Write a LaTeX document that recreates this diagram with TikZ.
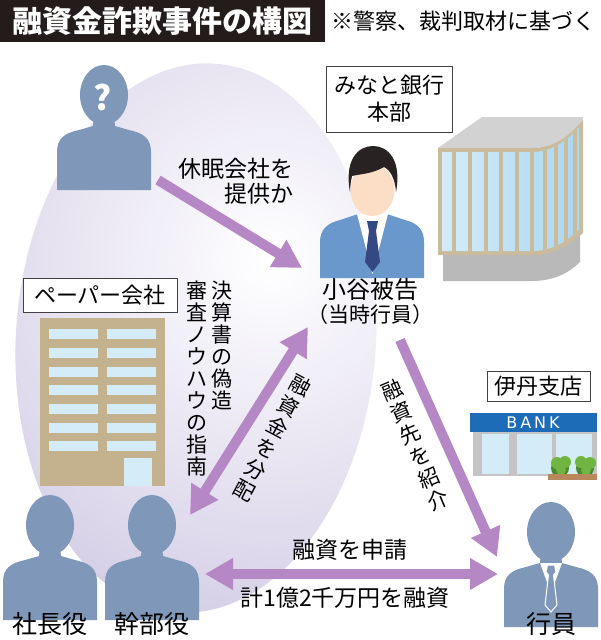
\documentclass[tikz,border=0pt]{standalone}
\usepackage{fontspec}
\setmainfont{Noto Sans CJK JP}
\newfontfamily\bankfont{DejaVu Sans}
\usetikzlibrary{arrows.meta,shapes.geometric}
\definecolor{silh}{RGB}{127,152,185}
\definecolor{arr}{RGB}{181,135,196}
\definecolor{lav}{RGB}{204,196,225}
\definecolor{tanc}{RGB}{196,177,142}
\definecolor{win}{RGB}{212,236,248}
\definecolor{winb}{RGB}{170,214,240}
\definecolor{beige}{RGB}{201,187,155}
\definecolor{roof}{RGB}{210,210,210}
\definecolor{basegray}{RGB}{185,185,185}
\definecolor{suit}{RGB}{106,152,204}
\definecolor{tiec}{RGB}{52,72,132}
\definecolor{skin}{RGB}{252,222,198}
\definecolor{hair}{RGB}{40,34,34}
\definecolor{bankblue}{RGB}{28,108,184}
\definecolor{bush}{RGB}{112,180,66}
\definecolor{bushd}{RGB}{72,138,45}
\definecolor{planter}{RGB}{184,136,90}
\definecolor{titlebg}{RGB}{35,28,26}
\tikzset{
  fatarrow/.style={draw=arr, line width=10pt, -{Triangle[width=30pt,length=28pt]}},
  fatdouble/.style={draw=arr, line width=10pt, {Triangle[width=30pt,length=28pt]}-{Triangle[width=30pt,length=28pt]}},
  lbl/.style={font=\fontsize{23}{26}\selectfont, inner sep=0pt, align=center},
  boxlbl/.style={draw=black!75, line width=0.8pt, fill=white, font=\fontsize{22}{27}\selectfont, inner sep=2pt, align=center},
  pname/.style={font=\fontsize{24}{28}\selectfont, inner sep=0pt},
  vcol/.style={font=\fontsize{21}{22}\selectfont, inner sep=0pt, align=center, anchor=north},
  rchar/.style={font=\fontsize{21}{22}\selectfont, inner sep=0pt},
  silhouette/.pic={
    \fill[silh] (-47,0) -- (-47,-38) .. controls (-47,-52) and (-39,-57) .. (-25,-60) -- (-11,-64) -- (-10,-74) -- (10,-74) -- (11,-64) -- (25,-60) .. controls (39,-57) and (47,-52) .. (47,-38) -- (47,0) -- cycle;
    \fill[silh] (0,-95) ellipse [x radius=24, y radius=30];
  }
}
\begin{document}
\begin{tikzpicture}[x=1pt,y=-1pt]
\useasboundingbox (0,0) rectangle (600,640);
\fill[white] (0,0) rectangle (600,640);

% background ellipse
\begin{scope}
\clip[rotate around={-4:(196,338)}] (196,338) ellipse [x radius=180, y radius=275];
\shade[inner color=white, outer color=lav] (270,260) circle (450);
\end{scope}

% title
\node[fill=titlebg, minimum width=325pt, minimum height=42pt, anchor=north west, text=white, font=\fontsize{30}{32}\selectfont\bfseries, inner sep=0pt] (title) at (0,0) {融資金詐欺事件の構図};
\node[anchor=west, font=\fontsize{22}{24}\selectfont, inner sep=0pt] (sub) at (331,21) {※警察、裁判取材に基づく};

% HQ building
\fill[basegray] (443,240) -- (443,281) -- (532,281) .. controls (552,281) and (568,274) .. (580,262) -- (580,220) -- cycle;
\fill[roof] (438,148) -- (482,117) -- (583,117) -- (583,120) .. controls (566,140) and (550,148) .. (532,148) -- cycle;
\fill[beige] (438,148) -- (532,148) .. controls (550,148) and (566,140) .. (583,120) -- (583,233) .. controls (566,248) and (550,255) .. (532,255) -- (438,255) -- cycle;
\begin{scope}
\clip (442,152) -- (532,152) .. controls (549,152) and (564,144) .. (579,127) -- (579,230) .. controls (564,244) and (549,251) .. (532,251) -- (442,251) -- cycle;
\shade[left color=win, right color=winb] (440,110) rectangle (585,260);
\foreach \x in {454,470,486,501,517,532,545,556,566,575} \draw[beige, line width=3.5pt] (\x,110) -- (\x,260);
\end{scope}
\node[boxlbl, minimum width=126pt, minimum height=66pt] (hq) at (389,99) {みなと銀行\\本部};

% paper company building
\node[boxlbl, minimum width=154pt, minimum height=34pt] (paper) at (100,295) {ペーパー会社};
\fill[tanc] (40,318) rectangle (165,486);
\foreach \y in {329,348,367,385,404,423,441} {
  \fill[win] (49,\y) rectangle (98,\y+10);
  \fill[win] (107,\y) rectangle (156,\y+10);
}
\fill[win] (124,458) rectangle (152,486);

% bank branch
\node[boxlbl, minimum width=103pt, minimum height=30pt] (itami) at (538.5,386.5) {伊丹支店};
\fill[bankblue] (470,413) rectangle (597,432);
\node[text=white, font=\bankfont\fontsize{16}{17}\selectfont, inner sep=0pt] (bank) at (533,422.5) {B\hspace{3pt}A\hspace{3pt}N\hspace{3pt}K};
\fill[basegray!85] (473,432) rectangle (597,476);
\fill[win] (482,434) rectangle (509,474);
\fill[win] (517,434) rectangle (552,474);
\fill[win] (556,434) rectangle (592,474);
\fill[bushd] (560,468) circle (9);
\fill[bushd] (585,468) circle (9);
\fill[bush] (557,463) circle (6);
\fill[bush] (565,462) circle (6);
\fill[bush] (581,462) circle (6);
\fill[bush] (590,463) circle (6);
\fill[bush] (561,470) circle (5);
\fill[bush] (586,470) circle (5);
\fill[planter] (548,474) rectangle (597,480);

% persons
\pic (pq) at (104,190) {silhouette};
\node[text=white, font=\fontsize{34}{36}\selectfont\bfseries, inner sep=0pt] (qm) at (103,97) {?};
\pic (p1) at (50,620) {silhouette};
\pic (p2) at (152,620) {silhouette};
\pic (p3) at (551,627) {silhouette};
\fill[white] (540,563) -- (551,593) -- (562,563) -- cycle;
\filldraw[silh, draw=white, line width=1pt] (547.5,565) -- (554.5,565) -- (556,572) -- (553.5,575) -- (557,605) -- (551,612) -- (545,605) -- (548.5,575) -- (546,572) -- cycle;

% Kotani
\fill[suit] (320,278) -- (320,242) .. controls (320,229) and (328,223) .. (340,220) -- (358,214) -- (387,214) -- (405,220) .. controls (417,223) and (424,229) .. (424,242) -- (424,278) -- cycle;
\fill[skin] (362,198) rectangle (383,222);
\fill[white] (357,214) -- (372.5,274) -- (388,214) -- cycle;
\fill[tiec] (367,221) -- (378,221) -- (376,231) -- (380,262) -- (372.5,272) -- (365,262) -- (369,231) -- cycle;
\fill[skin] (372.5,190) ellipse [x radius=22, y radius=26];
\fill[hair] (350,192) .. controls (344,160) and (358,146) .. (373,146) .. controls (388,146) and (402,160) .. (396,192) .. controls (395,178) and (390,170) .. (384,167) .. controls (372,174) and (360,174) .. (352,176) .. controls (351,181) and (350,186) .. (350,192) -- cycle;

% names
\node[pname] (nk1) at (370,289) {小谷被告};
\node[pname, font=\fontsize{21}{24}\selectfont] (nk2) at (370,315) {（当時行員）};
\node[pname, font=\fontsize{25}{28}\selectfont] (n1) at (50,624) {社長役};
\node[pname, font=\fontsize{25}{28}\selectfont] (n2) at (152,624) {幹部役};
\node[pname, font=\fontsize{25}{28}\selectfont] (n3) at (551,624) {行員};

% arrows
\coordinate (a1s) at (158,180);
\coordinate (a1e) at (302,268);
\coordinate (a2s) at (190,515);
\coordinate (a2e) at (308,327);
\coordinate (a3s) at (400,340);
\coordinate (a3e) at (497,557);
\coordinate (a4s) at (205,574);
\coordinate (a4e) at (498,574);
\draw[fatarrow] (a1s) -- (a1e);
\draw[fatdouble] (a2s) -- (a2e);
\draw[fatarrow] (a3s) -- (a3e);
\draw[fatdouble] (a4s) -- (a4e);

% labels
\node[lbl, anchor=east] (t1a) at (294,169) {休眠会社を};
\node[lbl, anchor=east] (t1b) at (294,194) {提供か};
\node[vcol] (v1) at (222,281) {決\\算\\書\\の\\偽\\造};
\node[vcol] (v2) at (197,281) {審\\査\\ノ\\ウ\\ハ\\ウ\\の\\指\\南};
\foreach \c [count=\i from 0] in {融,資,金,を,分,配}
  \node[rchar, rotate=-28] (v3-\i) at ({300.2-11.27*\i},{385+21.19*\i}) {\c};
\foreach \c [count=\i from 0] in {融,資,先,を,紹,介}
  \node[rchar, rotate=23] (v4-\i) at ({391.6+9.38*\i},{389.8+22.09*\i}) {\c};
\node[lbl] (h1) at (350,550) {融資を申請};
\node[lbl] (h2) at (345,598) {計1億2千万円を融資};
\end{tikzpicture}
\end{document}
